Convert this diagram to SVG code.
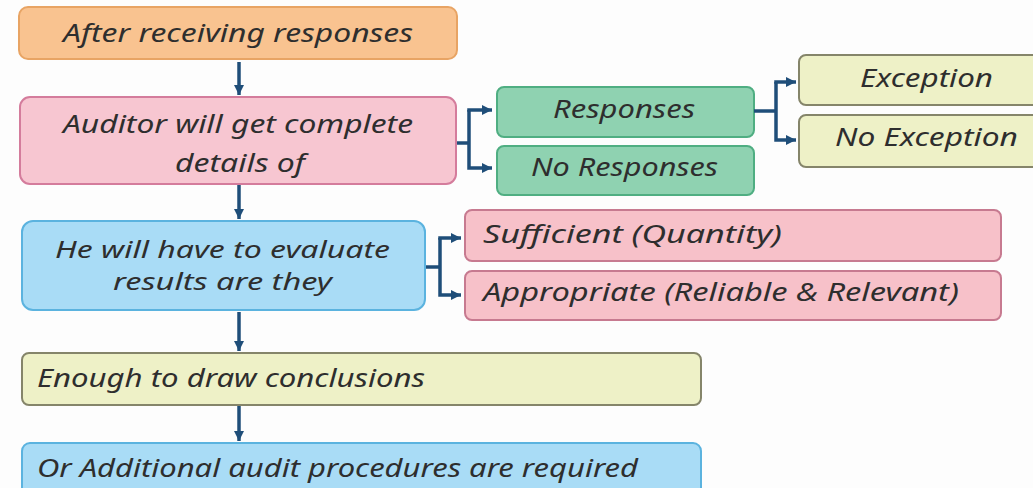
<svg xmlns="http://www.w3.org/2000/svg" width="1033" height="488" viewBox="0 0 1033 488">
  <defs>
    <marker id="head" markerUnits="userSpaceOnUse" markerWidth="12" markerHeight="12" refX="10" refY="6" orient="auto">
      <path d="M0,1 L10,6 L0,11 z" fill="#1f4e79"/>
    </marker>
    <style>
      .box { stroke-width: 2; }
      .orange { fill: #f9c390; stroke: #e8a464; }
      .pink { fill: #f7c6d1; stroke: #d47c9c; }
      .rose { fill: #f7c1c9; stroke: #c77a90; }
      .green { fill: #8fd2b1; stroke: #4fae82; }
      .olive { fill: #eef1c7; stroke: #85856a; }
      .blue { fill: #a9dcf6; stroke: #5bb3df; }
      text { font-family: "Noto Sans", "DejaVu Sans", sans-serif; font-style: italic; font-size: 25px; fill: #2e2e2e; }
      .sm { font-size: 23px; }
      .conn { fill: none; stroke: #1f4e79; stroke-width: 3.5; }
    </style>
  </defs>

  <rect width="1033" height="488" fill="#fdfdfd"/>

  <g id="after-receiving">
    <rect class="box orange" x="19" y="7" width="438" height="52" rx="9"/>
    <text x="63" y="42" textLength="350" lengthAdjust="spacingAndGlyphs">After receiving responses</text>
  </g>

  <g id="auditor-details">
    <rect class="box pink" x="20" y="97" width="436" height="87" rx="10"/>
    <text x="63" y="133" textLength="350" lengthAdjust="spacingAndGlyphs">Auditor will get complete</text>
    <text x="175" y="172" textLength="130" lengthAdjust="spacingAndGlyphs">details of</text>
  </g>

  <g id="responses">
    <rect class="box green" x="497" y="87" width="257" height="50" rx="7"/>
    <text x="553" y="118" textLength="142" lengthAdjust="spacingAndGlyphs">Responses</text>
  </g>

  <g id="no-responses">
    <rect class="box green" x="497" y="146" width="257" height="49" rx="7"/>
    <text x="531" y="176" textLength="187" lengthAdjust="spacingAndGlyphs">No Responses</text>
  </g>

  <g id="exception">
    <rect class="box olive" x="799" y="55" width="240" height="50" rx="7"/>
    <text x="860" y="87" textLength="133" lengthAdjust="spacingAndGlyphs">Exception</text>
  </g>

  <g id="no-exception">
    <rect class="box olive" x="799" y="115" width="240" height="52" rx="7"/>
    <text x="835" y="146" textLength="183" lengthAdjust="spacingAndGlyphs">No Exception</text>
  </g>

  <g id="evaluate">
    <rect class="box blue" x="22" y="221" width="403" height="89" rx="11"/>
    <text class="sm" x="55" y="258" textLength="335" lengthAdjust="spacingAndGlyphs">He will have to evaluate</text>
    <text class="sm" x="113" y="290" textLength="219" lengthAdjust="spacingAndGlyphs">results are they</text>
  </g>

  <g id="sufficient">
    <rect class="box rose" x="465" y="210" width="536" height="51" rx="7"/>
    <text x="483" y="243" textLength="299" lengthAdjust="spacingAndGlyphs">Sufficient (Quantity)</text>
  </g>

  <g id="appropriate">
    <rect class="box rose" x="465" y="271" width="536" height="49" rx="7"/>
    <text x="483" y="301" textLength="476" lengthAdjust="spacingAndGlyphs">Appropriate (Reliable &amp; Relevant)</text>
  </g>

  <g id="enough">
    <rect class="box olive" x="22" y="353" width="679" height="52" rx="7"/>
    <text x="37" y="387" textLength="388" lengthAdjust="spacingAndGlyphs">Enough to draw conclusions</text>
  </g>

  <g id="additional">
    <rect class="box blue" x="22" y="443" width="679" height="60" rx="8"/>
    <text x="37" y="477" textLength="601" lengthAdjust="spacingAndGlyphs">Or Additional audit procedures are required</text>
  </g>

  <g id="connectors">
    <!-- main vertical flow -->
    <line class="conn" x1="239" y1="62" x2="239" y2="95" marker-end="url(#head)"/>
    <line class="conn" x1="239" y1="185" x2="239" y2="219" marker-end="url(#head)"/>
    <line class="conn" x1="239" y1="312" x2="239" y2="351" marker-end="url(#head)"/>
    <line class="conn" x1="239" y1="406" x2="239" y2="441" marker-end="url(#head)"/>

    <!-- bracket: details to responses / no responses -->
    <line class="conn" x1="457" y1="143" x2="469" y2="143"/>
    <path class="conn" d="M469,110 V168 H492" marker-end="url(#head)"/>
    <line class="conn" x1="467.25" y1="110" x2="492" y2="110" marker-end="url(#head)"/>

    <!-- bracket: responses to exception / no exception -->
    <line class="conn" x1="754" y1="111" x2="776" y2="111"/>
    <path class="conn" d="M776,82 V140 H796" marker-end="url(#head)"/>
    <line class="conn" x1="774.25" y1="82" x2="796" y2="82" marker-end="url(#head)"/>

    <!-- bracket: evaluate to sufficient / appropriate -->
    <line class="conn" x1="426" y1="267" x2="440" y2="267"/>
    <path class="conn" d="M440,238 V295 H461" marker-end="url(#head)"/>
    <line class="conn" x1="438.25" y1="238" x2="461" y2="238" marker-end="url(#head)"/>
  </g>
</svg>
